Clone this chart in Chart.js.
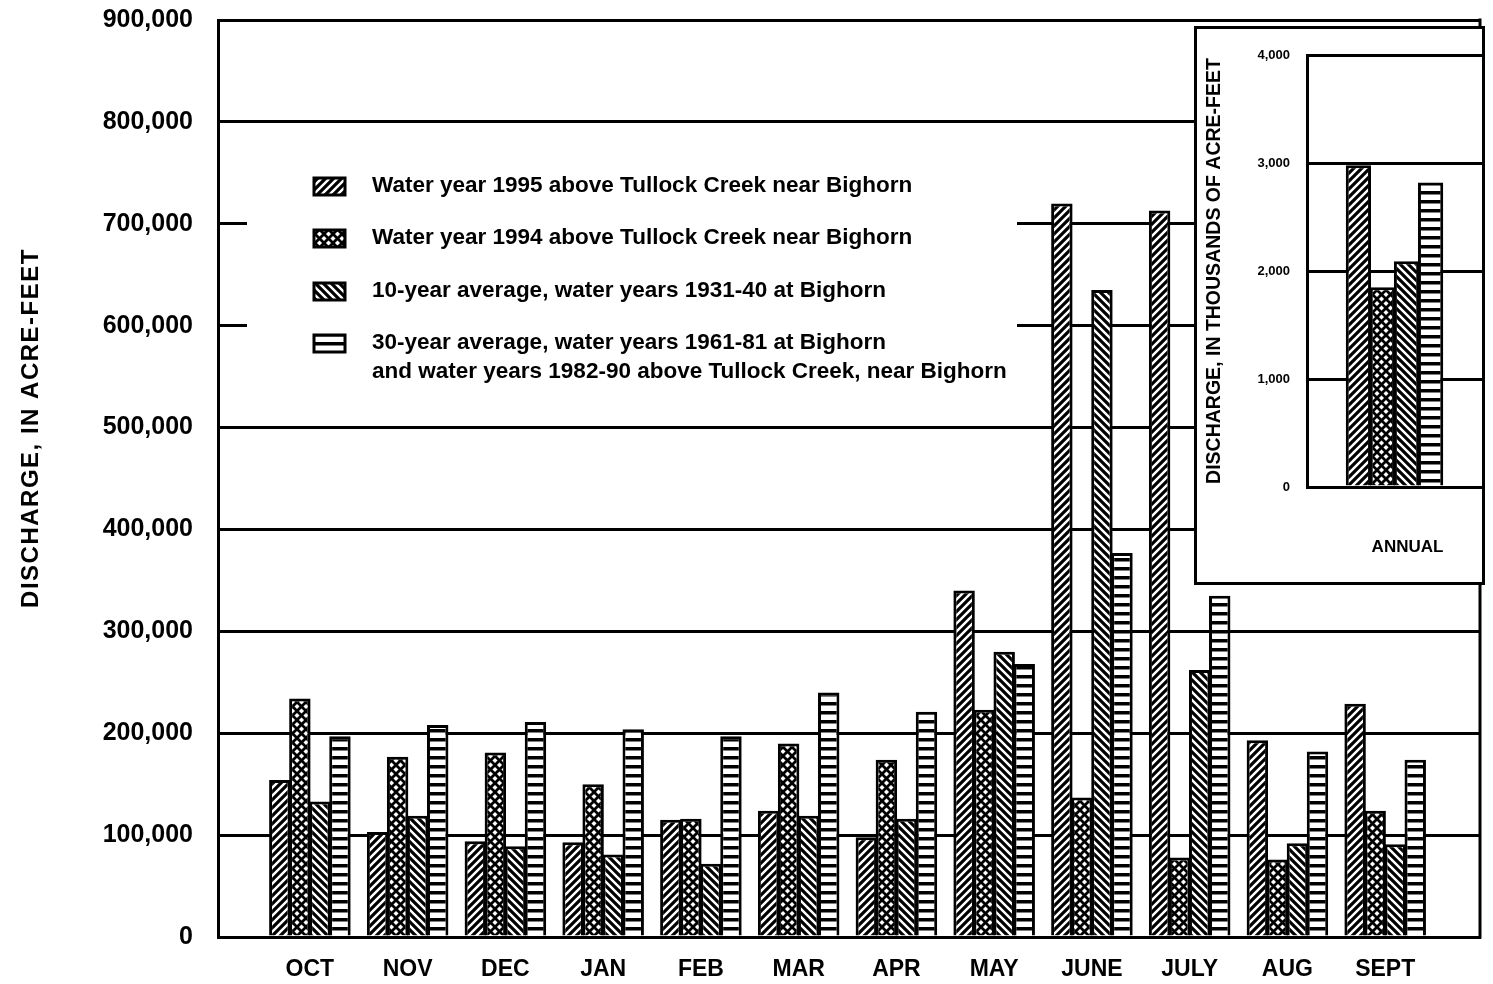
<!DOCTYPE html>
<html>
<head>
<meta charset="utf-8">
<script src="https://cdn.jsdelivr.net/npm/chart.js@4/dist/chart.umd.min.js"></script>
<style>
  body { margin: 0; background: #fff; }
  #wrap { position: relative; width: 1493px; height: 984px; }
  #inset {
    position: absolute; left: 1194px; top: 26px; width: 291px; height: 559px;
    box-sizing: border-box; border: 3px solid #000; background: #fff;
  }
</style>
</head>
<body>
<div id="wrap">
  <canvas id="mainChart" width="1493" height="984"></canvas>
  <div id="inset"><canvas id="annualChart" width="285" height="553"></canvas></div>
</div>
<script>
const months = ['OCT','NOV','DEC','JAN','FEB','MAR','APR','MAY','JUNE','JULY','AUG','SEPT'];
const wy1995 = [154000, 103000, 94000, 93000, 115000, 124000, 98000, 340000, 720000, 713000, 193000, 229000];
const wy1994 = [234000, 177000, 181000, 150000, 116000, 190000, 174000, 223000, 137000, 78000, 76000, 124000];
const avg10 = [133000, 119000, 89000, 81000, 72000, 119000, 116000, 280000, 635000, 262000, 92000, 91000];
const avg30 = [197000, 208000, 211000, 204000, 197000, 240000, 221000, 268000, 377000, 335000, 182000, 174000];

// annual totals, thousands of acre-feet
const annualLabels = ['ANNUAL'];
const annual1995 = [2980];
const annual1994 = [1850];
const annual10 = [2090];
const annual30 = [2820];

const legendLabels = [
  ['Water year 1995 above Tullock Creek near Bighorn'],
  ['Water year 1994 above Tullock Creek near Bighorn'],
  ['10-year average, water years 1931-40 at Bighorn'],
  ['30-year average, water years 1961-81 at Bighorn', 'and water years 1982-90 above Tullock Creek, near Bighorn']
];
const yTitle = 'DISCHARGE, IN ACRE-FEET';
const insetTitle = 'DISCHARGE, IN THOUSANDS OF ACRE-FEET';

const FONT = '"Liberation Sans", Arial, sans-serif';

// hatch fills
function hatch(kind) {
  const c = document.createElement('canvas');
  const s = kind === 'horiz' ? 9 : (kind === 'cross' ? 9 : 8);
  c.width = c.height = s;
  const g = c.getContext('2d');
  g.fillStyle = '#fff';
  g.fillRect(0, 0, s, s);
  g.strokeStyle = '#000';
  g.fillStyle = '#000';
  g.lineWidth = kind === 'cross' ? 2.8 : 3.2;
  const fwd = () => {
    g.beginPath();
    g.moveTo(0, s); g.lineTo(s, 0);
    g.moveTo(-2, 2); g.lineTo(2, -2);
    g.moveTo(s - 2, s + 2); g.lineTo(s + 2, s - 2);
    g.stroke();
  };
  const back = () => {
    g.beginPath();
    g.moveTo(0, 0); g.lineTo(s, s);
    g.moveTo(-2, s - 2); g.lineTo(2, s + 2);
    g.moveTo(s - 2, -2); g.lineTo(s + 2, 2);
    g.stroke();
  };
  if (kind === 'fwd') fwd();
  if (kind === 'back') back();
  if (kind === 'cross') { fwd(); back(); }
  if (kind === 'horiz') g.fillRect(0, 0, s, 3.5);
  return g.createPattern(c, 'repeat');
}

const fills = [hatch('fwd'), hatch('cross'), hatch('back'), hatch('horiz')];

const barStyle = {
  borderColor: '#000',
  borderWidth: 3,
  borderSkipped: 'start',
  categoryPercentage: 0.82,
  barPercentage: 1.07
};

const toXY = arr => arr.map((v, i) => ({ x: i, y: v }));

const mainExtras = {
  id: 'mainExtras',
  afterDatasetsDraw(chart) {
    const { ctx, chartArea: a } = chart;
    ctx.save();
    // legend panel hides the grid behind it
    ctx.fillStyle = '#fff';
    ctx.fillRect(247, 138, 770, 277);
    const rows = [186, 238, 291, 343];
    ctx.font = 'bold 22.5px ' + FONT;
    ctx.textBaseline = 'middle';
    legendLabels.forEach((lines, i) => {
      ctx.fillStyle = fills[i];
      ctx.fillRect(314, rows[i] - 8, 31, 17);
      ctx.strokeStyle = '#000';
      ctx.lineWidth = 3;
      ctx.strokeRect(314, rows[i] - 8, 31, 17);
      ctx.fillStyle = '#000';
      lines.forEach((t, j) => ctx.fillText(t, 372, rows[i] + j * 29));
    });
    // right frame
    ctx.strokeStyle = '#000';
    ctx.lineWidth = 3;
    ctx.beginPath();
    ctx.moveTo(a.right, a.top - 1.5);
    ctx.lineTo(a.right, a.bottom + 1.5);
    ctx.stroke();
    // y axis title
    ctx.translate(31, 428);
    ctx.rotate(-Math.PI / 2);
    ctx.font = 'bold 24px ' + FONT;
    ctx.letterSpacing = '1.5px';
    ctx.textAlign = 'center';
    ctx.textBaseline = 'middle';
    ctx.fillText(yTitle, 0, 0);
    ctx.restore();
  }
};

new Chart(document.getElementById('mainChart'), {
  type: 'bar',
  data: {
    datasets: [
      { label: legendLabels[0][0], data: toXY(wy1995), backgroundColor: fills[0], ...barStyle },
      { label: legendLabels[1][0], data: toXY(wy1994), backgroundColor: fills[1], ...barStyle },
      { label: legendLabels[2][0], data: toXY(avg10), backgroundColor: fills[2], ...barStyle },
      { label: legendLabels[3].join(' '), data: toXY(avg30), backgroundColor: fills[3], ...barStyle }
    ]
  },
  options: {
    responsive: false,
    animation: false,
    layout: { padding: { top: 20, right: 13, bottom: 0, left: 0 } },
    plugins: { legend: { display: false }, tooltip: { enabled: false } },
    scales: {
      x: {
        type: 'linear',
        offset: false,
        min: -0.94,
        max: 11.97,
        afterBuildTicks: s => { s.ticks = months.map((m, i) => ({ value: i })); },
        afterFit: s => { s.height = 47; },
        grid: { display: false },
        border: { display: true, color: '#000', width: 3 },
        ticks: {
          callback: v => months[v] ?? '',
          color: '#000',
          font: { family: FONT, size: 23, weight: 'bold' },
          padding: 11,
          maxRotation: 0,
          autoSkip: false
        }
      },
      y: {
        min: 0,
        max: 900000,
        afterFit: s => { s.width = 218; s.paddingTop = 0; s.paddingBottom = 0; },
        grid: { color: '#000', lineWidth: 3, drawTicks: false },
        border: { display: true, color: '#000', width: 3 },
        ticks: {
          stepSize: 100000,
          callback: v => v.toLocaleString('en-US'),
          color: '#000',
          font: { family: FONT, size: 25, weight: 'bold' },
          padding: 25
        }
      }
    }
  },
  plugins: [mainExtras]
});

const insetStyle = { ...barStyle, categoryPercentage: 0.55, barPercentage: 1.05 };

new Chart(document.getElementById('annualChart'), {
  type: 'bar',
  data: {
    labels: annualLabels,
    datasets: [
      { label: '1995', data: annual1995, backgroundColor: fills[0], ...insetStyle },
      { label: '1994', data: annual1994, backgroundColor: fills[1], ...insetStyle },
      { label: '10-year', data: annual10, backgroundColor: fills[2], ...insetStyle },
      { label: '30-year', data: annual30, backgroundColor: fills[3], ...insetStyle }
    ]
  },
  options: {
    responsive: false,
    animation: false,
    layout: { padding: { top: 26, right: 0, bottom: 0, left: 0 } },
    plugins: { legend: { display: false }, tooltip: { enabled: false } },
    scales: {
      x: {
        afterFit: s => { s.height = 95; },
        grid: { display: false },
        border: { display: true, color: '#000', width: 3 },
        ticks: {
          color: '#000',
          font: { family: FONT, size: 17, weight: 'bold' },
          padding: 42,
          labelOffset: 13
        }
      },
      y: {
        min: 0,
        max: 4000,
        afterFit: s => { s.width = 110; s.paddingTop = 0; s.paddingBottom = 0; },
        grid: { color: '#000', lineWidth: 3, drawTicks: false },
        border: { display: true, color: '#000', width: 3 },
        title: {
          display: true,
          text: insetTitle,
          color: '#000',
          font: { family: FONT, size: 19.5, weight: 'bold' },
          padding: { top: 6, bottom: 0 }
        },
        ticks: {
          stepSize: 1000,
          callback: v => v.toLocaleString('en-US'),
          color: '#000',
          font: { family: FONT, size: 13, weight: 'bold' },
          padding: 17
        }
      }
    }
  }
});
</script>
</body>
</html>
